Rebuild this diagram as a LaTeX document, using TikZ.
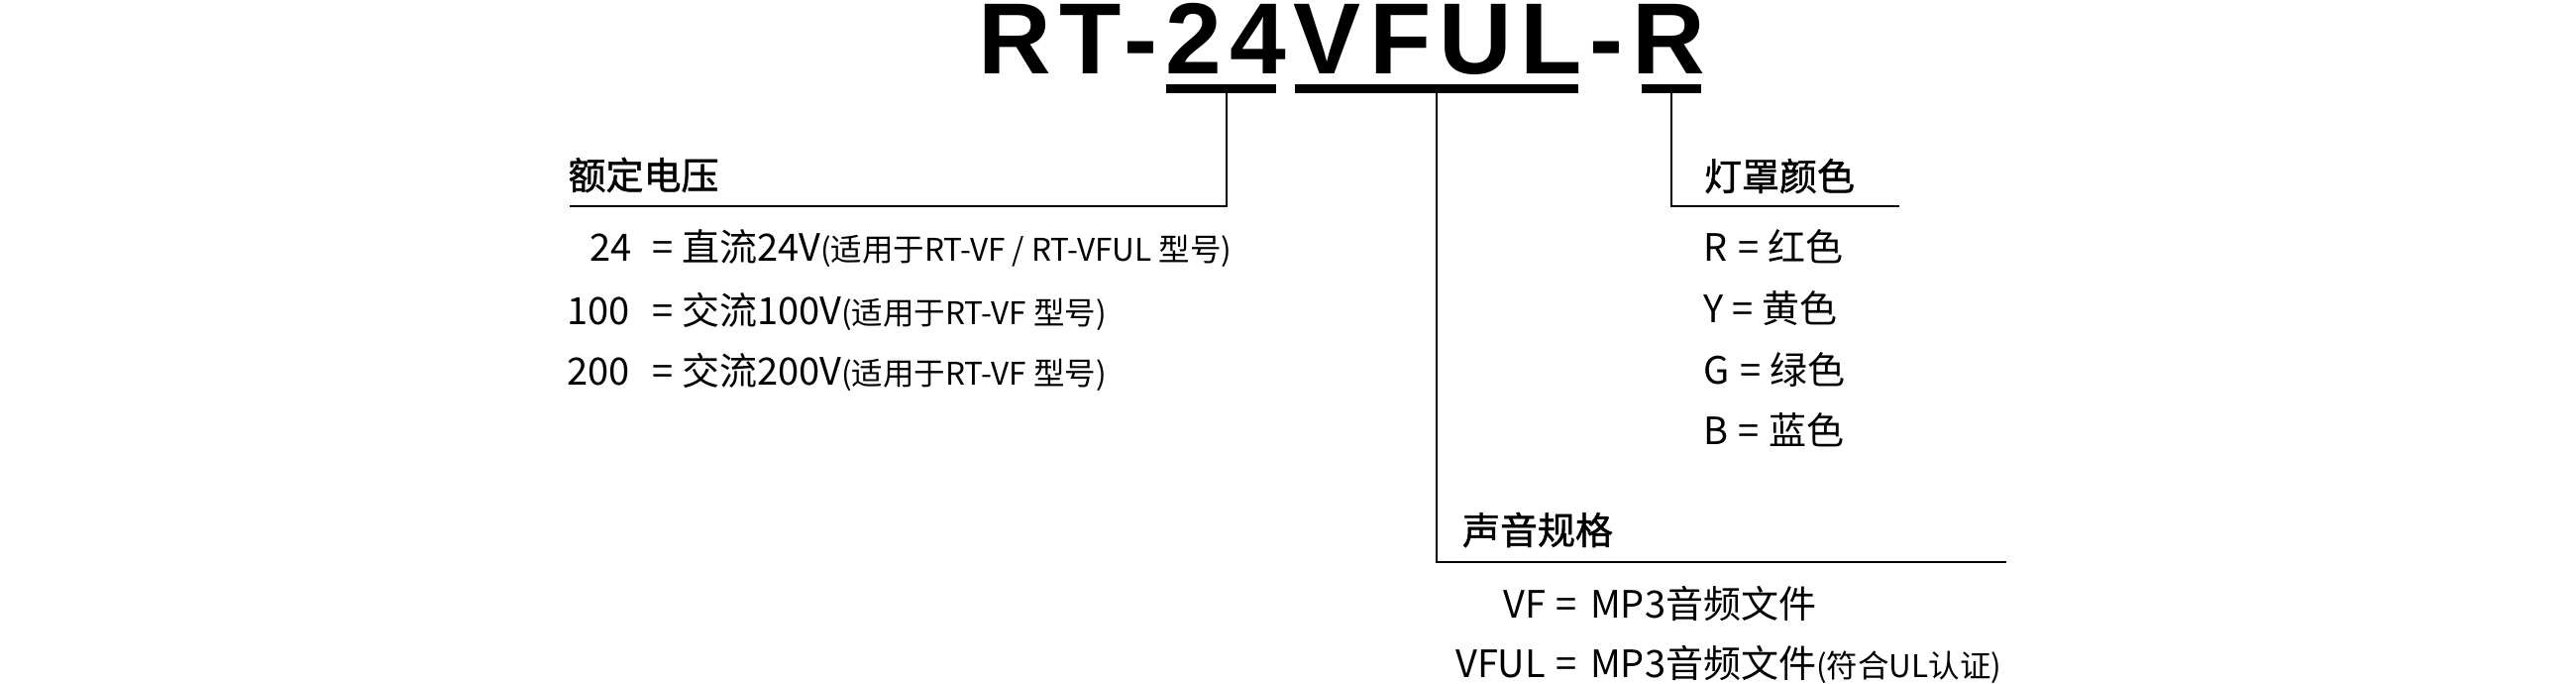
\documentclass[tikz,border=0pt]{standalone}
\usepackage{fontspec}
\setmainfont{Liberation Sans}
\newfontfamily\cjk{Noto Sans CJK SC}
\newfontfamily\cjkhead{Noto Sans CJK SC}[FakeBold=1.2]
\newfontfamily\titlefont{Liberation Sans}[LetterSpace=8]
\newcommand\smalltxt[1]{{\fontsize{31.5}{31.5}\selectfont #1}}
\newcommand\eqsep[2]{\hspace{#1pt}=\hspace{#2pt}}
\tikzset{
  txt/.style={inner sep=0pt, outer sep=0pt, font=\cjk\fontsize{38}{38}\selectfont},
  headtxt/.style={inner sep=0pt, outer sep=0pt, font=\cjkhead\fontsize{38}{38}\selectfont},
  titletxt/.style={inner sep=0pt, outer sep=0pt, font=\titlefont\bfseries\fontsize{102}{102}\selectfont},
  conn/.style={line width=2pt, black},
  barbox/.style={fill=black, draw=none, inner sep=0pt, outer sep=0pt, minimum height=9pt},
}
\begin{document}
\begin{tikzpicture}[x=1pt,y=-1pt]
\useasboundingbox (0,0) rectangle (2600,690);
% title
\node[titletxt, anchor=base west] (title) at (987.5,75) {RT-24VFUL-R};
% underline bars
\node[barbox, minimum width=111pt] (bar24) at (1232.5,90) {};
\node[barbox, minimum width=286pt] (barVF) at (1450,90) {};
\node[barbox, minimum width=60pt] (barR) at (1687,90) {};
% connector ends
\coordinate (endL) at (575,208);
\coordinate (endR) at (1917,208);
\coordinate (endS) at (2025,567);
\draw[conn] ([xshift=5pt]bar24.south) |- (endL);
\draw[conn] (barR.south) |- (endR);
\draw[conn] (barVF.south) |- (endS);
% voltage
\node[headtxt, anchor=base west] (hV) at (573.5,191) {额定电压};
\node[txt, anchor=base east] (k24) at (638,263) {24};
\node[txt, anchor=base west] (v24) at (658,263) {=\hspace{9pt}直流24V\smalltxt{(适用于RT-VF / RT-VFUL 型号)}};
\node[txt, anchor=base east] (k100) at (636,327) {100};
\node[txt, anchor=base west] (v100) at (658,327) {=\hspace{9pt}交流100V\smalltxt{(适用于RT-VF 型号)}};
\node[txt, anchor=base east] (k200) at (636,388) {200};
\node[txt, anchor=base west] (v200) at (658,388) {=\hspace{9pt}交流200V\smalltxt{(适用于RT-VF 型号)}};
% colours
\node[headtxt, anchor=base west] (hC) at (1720,192) {灯罩颜色};
\node[txt, anchor=base west] (cR) at (1719,263) {R\eqsep{11}{9}红色};
\node[txt, anchor=base west] (cY) at (1719,325) {Y\eqsep{9}{9}黄色};
\node[txt, anchor=base west] (cG) at (1719,387) {G\eqsep{11}{9}绿色};
\node[txt, anchor=base west] (cB) at (1719,448) {B\eqsep{11}{9}蓝色};
% sound
\node[headtxt, anchor=base west] (hS) at (1476,549) {声音规格};
\node[txt, anchor=base east] (kVF) at (1560,623) {VF};
\node[txt, anchor=base west] (vVF) at (1570,623) {=\hspace{14pt}MP3音频文件};
\node[txt, anchor=base east] (kVFUL) at (1560,683) {VFUL};
\node[txt, anchor=base west] (vVFUL) at (1570,683) {=\hspace{14pt}MP3音频文件\smalltxt{(符合UL认证)}};
\end{tikzpicture}
\end{document}
